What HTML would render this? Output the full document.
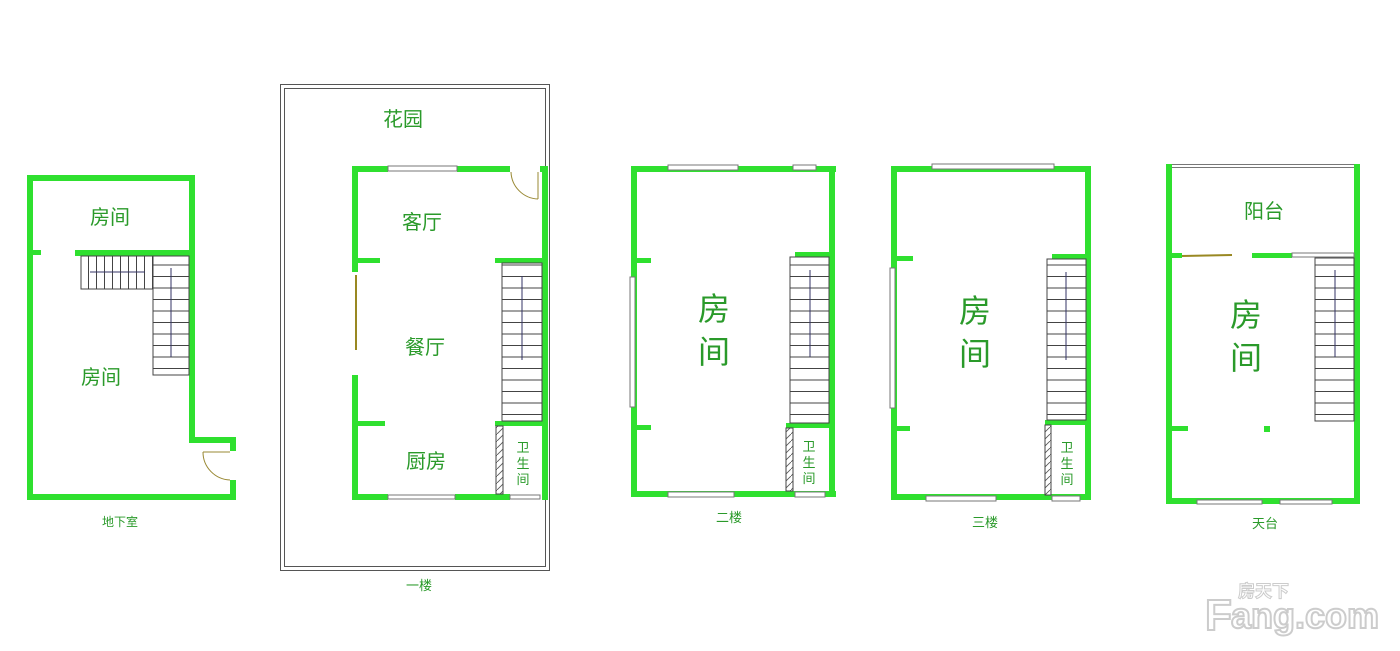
<!DOCTYPE html>
<html><head><meta charset="utf-8"><style>
html,body{margin:0;padding:0;background:#fff;width:1400px;height:651px;overflow:hidden}
svg text{font-family:"Liberation Sans","Noto Sans CJK SC",sans-serif;fill:#2a9a2a}
</style></head><body>
<svg width="1400" height="651" viewBox="0 0 1400 651" xmlns="http://www.w3.org/2000/svg">
<defs>
<pattern id="st" width="40" height="11.5" patternUnits="userSpaceOnUse"><rect width="40" height="11.5" fill="#fff"/><line x1="0" y1="0.5" x2="40" y2="0.5" stroke="#444" stroke-width="1"/></pattern>
<pattern id="sth" width="8" height="40" patternUnits="userSpaceOnUse"><rect width="8" height="40" fill="#fff"/><line x1="0.5" y1="0" x2="0.5" y2="40" stroke="#444" stroke-width="1"/></pattern>
<pattern id="hat" width="7" height="7" patternUnits="userSpaceOnUse"><rect width="7" height="7" fill="#fff"/><line x1="0" y1="7" x2="7" y2="0" stroke="#555" stroke-width="0.8"/></pattern>
</defs>
<g fill="#2fe02f">
<!-- Basement -->
<rect x="27" y="175" width="168" height="6"/>
<rect x="27" y="175" width="6" height="325"/>
<rect x="189" y="175" width="6" height="268"/>
<rect x="189" y="437" width="47" height="6"/>
<rect x="230" y="437" width="6" height="14"/>
<rect x="230" y="480" width="6" height="20"/>
<rect x="27" y="494" width="209" height="6"/>
<rect x="75" y="250" width="120" height="6"/>
<rect x="33" y="250" width="8" height="5"/>
</g>
<rect x="81" y="256" width="72" height="33" fill="url(#sth)" stroke="#444"/>
<rect x="153" y="256" width="36" height="119" fill="url(#st)" stroke="#444"/>
<line x1="90" y1="272" x2="145" y2="272" stroke="#336" stroke-width="1"/>
<line x1="171" y1="268" x2="171" y2="357" stroke="#336" stroke-width="1"/>
<path d="M203,452 h27 M203,452 a28,28 0 0 0 27,28" fill="none" stroke="#998833" stroke-width="1"/>
<text x="110" y="224" font-size="20" text-anchor="middle">房间</text>
<text x="101" y="384" font-size="20" text-anchor="middle">房间</text>
<text x="120" y="526" font-size="12" text-anchor="middle">地下室</text>

<!-- First floor garden -->
<rect x="280.5" y="84.5" width="269" height="486" fill="none" stroke="#555"/>
<rect x="284.5" y="88.5" width="261" height="478" fill="none" stroke="#555"/>
<text x="403" y="126" font-size="20" text-anchor="middle">花园</text>
<g fill="#2fe02f">
<rect x="352" y="166" width="36" height="6"/>
<rect x="457" y="166" width="53" height="6"/>
<rect x="540" y="166" width="8" height="6"/>
<rect x="542" y="166" width="6" height="334"/>
<rect x="352" y="166" width="6" height="106"/>
<rect x="352" y="375" width="6" height="125"/>
<rect x="358" y="258" width="22" height="5"/>
<rect x="358" y="421" width="27" height="5"/>
<rect x="495" y="258" width="50" height="5"/>
<rect x="495" y="421" width="50" height="5"/>
<rect x="352" y="494" width="36" height="6"/>
<rect x="455" y="494" width="55" height="6"/>
</g>
<rect x="388" y="166" width="69" height="5" fill="#fff" stroke="#777"/>
<rect x="388" y="495" width="67" height="4" fill="#fff" stroke="#777"/>
<rect x="510" y="495" width="30" height="4" fill="#fff" stroke="#777"/>
<line x1="356" y1="275" x2="356" y2="350" stroke="#998822" stroke-width="2"/>
<path d="M538,172 v27 M538,199 a28,28 0 0 1 -27,-27" fill="none" stroke="#998833" stroke-width="1"/>
<rect x="502" y="263" width="40" height="158" fill="url(#st)" stroke="#444"/>
<line x1="522" y1="276" x2="522" y2="360" stroke="#336"/>
<rect x="496" y="426" width="7" height="68" fill="url(#hat)" stroke="#444"/>
<text x="422" y="229" font-size="20" text-anchor="middle">客厅</text>
<text x="425" y="354" font-size="20" text-anchor="middle">餐厅</text>
<text x="426" y="468" font-size="20" text-anchor="middle">厨房</text>
<text x="523" y="452" font-size="13" text-anchor="middle">卫</text>
<text x="523" y="468" font-size="13" text-anchor="middle">生</text>
<text x="523" y="484" font-size="13" text-anchor="middle">间</text>
<text x="419" y="590" font-size="13" text-anchor="middle">一楼</text>

<!-- Second floor -->
<g fill="#2fe02f">
<rect x="631" y="166" width="205" height="6"/>
<rect x="631" y="166" width="6" height="331"/>
<rect x="829" y="166" width="6" height="331"/>
<rect x="631" y="491" width="205" height="6"/>
<rect x="637" y="258" width="14" height="5"/>
<rect x="637" y="425" width="14" height="5"/>
<rect x="795" y="252" width="35" height="5"/>
<rect x="786" y="423" width="45" height="5"/>
</g>
<rect x="668" y="165" width="70" height="5" fill="#fff" stroke="#777"/>
<rect x="793" y="165" width="23" height="5" fill="#fff" stroke="#777"/>
<rect x="630" y="277" width="5" height="130" fill="#fff" stroke="#777"/>
<rect x="668" y="492" width="66" height="5" fill="#fff" stroke="#777"/>
<rect x="795" y="492" width="30" height="5" fill="#fff" stroke="#777"/>
<rect x="790" y="257" width="39" height="166" fill="url(#st)" stroke="#444"/>
<line x1="810" y1="270" x2="810" y2="357" stroke="#336"/>
<rect x="786" y="428" width="7" height="63" fill="url(#hat)" stroke="#444"/>
<text x="714" y="320" font-size="32" text-anchor="middle">房</text>
<text x="714" y="363" font-size="32" text-anchor="middle">间</text>
<text x="809" y="451" font-size="13" text-anchor="middle">卫</text>
<text x="809" y="467" font-size="13" text-anchor="middle">生</text>
<text x="809" y="483" font-size="13" text-anchor="middle">间</text>
<text x="729" y="522" font-size="13" text-anchor="middle">二楼</text>

<!-- Third floor -->
<g fill="#2fe02f">
<rect x="891" y="166" width="199" height="6"/>
<rect x="891" y="166" width="6" height="334"/>
<rect x="1085" y="166" width="6" height="334"/>
<rect x="891" y="494" width="199" height="6"/>
<rect x="897" y="256" width="16" height="5"/>
<rect x="897" y="426" width="13" height="5"/>
<rect x="1052" y="254" width="35" height="5"/>
<rect x="1045" y="420" width="45" height="5"/>
</g>
<rect x="932" y="164" width="122" height="5" fill="#fff" stroke="#777"/>
<rect x="890" y="268" width="5" height="140" fill="#fff" stroke="#777"/>
<rect x="926" y="496" width="70" height="5" fill="#fff" stroke="#777"/>
<rect x="1052" y="496" width="28" height="5" fill="#fff" stroke="#777"/>
<rect x="1047" y="259" width="39" height="161" fill="url(#st)" stroke="#444"/>
<line x1="1066" y1="272" x2="1066" y2="360" stroke="#336"/>
<rect x="1045" y="425" width="6" height="70" fill="url(#hat)" stroke="#444"/>
<text x="975" y="322" font-size="32" text-anchor="middle">房</text>
<text x="975" y="365" font-size="32" text-anchor="middle">间</text>
<text x="1067" y="452" font-size="13" text-anchor="middle">卫</text>
<text x="1067" y="468" font-size="13" text-anchor="middle">生</text>
<text x="1067" y="484" font-size="13" text-anchor="middle">间</text>
<text x="985" y="527" font-size="13" text-anchor="middle">三楼</text>

<!-- Rooftop -->
<rect x="1170" y="164.5" width="186" height="3" fill="#fff" stroke="#777"/>
<g fill="#2fe02f">
<rect x="1166" y="164" width="6" height="340"/>
<rect x="1354" y="164" width="6" height="340"/>
<rect x="1166" y="498" width="194" height="6"/>
<rect x="1172" y="253" width="10" height="5"/>
<rect x="1252" y="253" width="40" height="5"/>
<rect x="1172" y="426" width="16" height="5"/>
<rect x="1264" y="426" width="6" height="6"/>
</g>
<line x1="1182" y1="256" x2="1232" y2="255" stroke="#998822" stroke-width="2"/>
<rect x="1292" y="253" width="62" height="4" fill="#fff" stroke="#777"/>
<rect x="1197" y="500" width="65" height="4" fill="#fff" stroke="#777"/>
<rect x="1280" y="500" width="52" height="4" fill="#fff" stroke="#777"/>
<rect x="1315" y="258" width="39" height="163" fill="url(#st)" stroke="#444"/>
<line x1="1335" y1="270" x2="1335" y2="357" stroke="#336"/>
<text x="1264" y="218" font-size="20" text-anchor="middle">阳台</text>
<text x="1246" y="326" font-size="32" text-anchor="middle">房</text>
<text x="1246" y="369" font-size="32" text-anchor="middle">间</text>
<text x="1265" y="528" font-size="13" text-anchor="middle">天台</text>

<!-- watermark -->
<text x="1205" y="630" font-size="44" font-weight="bold" style="fill:#fff;stroke:#ccc;stroke-width:2">F</text>
<text x="1238" y="597" font-size="17" font-weight="bold" style="fill:#fff;stroke:#ccc;stroke-width:1">房天下</text>
<text x="1231" y="628" font-size="36" font-weight="bold" style="fill:#fff;stroke:#ccc;stroke-width:2">ang.com</text>
</svg>
</body></html>
